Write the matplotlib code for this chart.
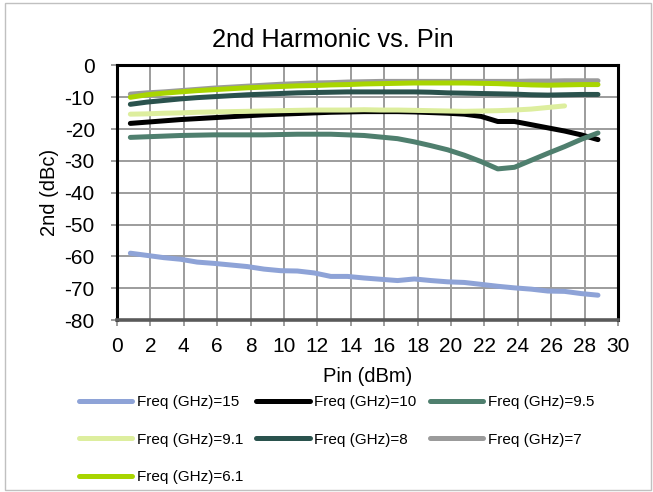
import matplotlib
matplotlib.use("Agg")
import matplotlib.pyplot as plt
from matplotlib.patches import Rectangle

plt.rcParams['font.family'] = ['Liberation Sans', 'DejaVu Sans']
plt.rcParams['axes.unicode_minus'] = False

pin = [0.8, 1.8, 2.8, 3.8, 4.8, 5.8, 6.8, 7.8, 8.8, 9.8, 10.8, 11.8, 12.8, 13.8, 14.8,
       15.8, 16.8, 17.8, 18.8, 19.8, 20.8, 21.8, 22.8, 23.8, 24.8, 25.8, 26.8, 27.8, 28.8]
pin_91 = pin[:27]

f15 = [-59.0, -59.7, -60.4, -60.9, -61.8, -62.2, -62.7, -63.2, -64.0, -64.5, -64.6, -65.2,
       -66.3, -66.3, -66.8, -67.2, -67.6, -67.1, -67.6, -68.0, -68.2, -68.8, -69.4, -69.9,
       -70.3, -70.9, -71.0, -71.7, -72.2]
f10 = [-18.2, -17.8, -17.4, -17.0, -16.7, -16.4, -16.1, -15.8, -15.5, -15.3, -15.1, -14.9,
       -14.7, -14.6, -14.5, -14.5, -14.5, -14.6, -14.8, -15.0, -15.3, -16.0, -17.6, -17.6,
       -18.6, -19.6, -20.6, -21.8, -23.3]
f95 = [-22.6, -22.4, -22.2, -22.0, -21.9, -21.8, -21.8, -21.8, -21.8, -21.7, -21.6, -21.6,
       -21.6, -21.8, -22.0, -22.5, -23.0, -24.0, -25.2, -26.5, -28.2, -30.2, -32.5, -32.0,
       -29.8, -27.6, -25.5, -23.2, -21.2]
f91 = [-15.3, -15.2, -15.0, -14.9, -14.7, -14.6, -14.5, -14.4, -14.3, -14.2, -14.1, -14.0,
       -14.0, -14.0, -13.9, -14.0, -14.0, -14.1, -14.2, -14.3, -14.4, -14.3, -14.2, -14.0,
       -13.7, -13.2, -12.7]
f8 = [-12.2, -11.5, -11.0, -10.5, -10.1, -9.8, -9.5, -9.2, -9.0, -8.8, -8.6, -8.5, -8.4,
      -8.3, -8.3, -8.3, -8.3, -8.3, -8.4, -8.6, -8.7, -8.8, -8.9, -9.0, -9.2, -9.3, -9.2,
      -9.1, -9.1]
f7 = [-9.0, -8.6, -8.3, -7.9, -7.5, -7.1, -6.8, -6.5, -6.2, -5.9, -5.7, -5.5, -5.4, -5.2,
      -5.1, -5.0, -5.0, -5.0, -5.0, -5.0, -5.0, -5.0, -5.0, -5.0, -4.9, -4.9, -4.8, -4.8, -4.8]
f61 = [-10.0, -9.2, -8.7, -8.3, -7.9, -7.6, -7.3, -7.0, -6.8, -6.6, -6.4, -6.3, -6.1, -6.0,
       -5.8, -5.7, -5.6, -5.5, -5.5, -5.5, -5.5, -5.6, -5.7, -5.9, -6.1, -6.2, -6.1, -6.0, -6.0]

labels = ["Freq (GHz)=15", "Freq (GHz)=10", "Freq (GHz)=9.5", "Freq (GHz)=9.1",
          "Freq (GHz)=8", "Freq (GHz)=7", "Freq (GHz)=6.1"]
colors = ["#8EA3D7", "#000000", "#4F7F6E", "#DDEE9E", "#2A524D", "#9B9B9B", "#A8D500"]
xs = [pin, pin, pin, pin_91, pin, pin, pin]
ys = [f15, f10, f95, f91, f8, f7, f61]

xticks = list(range(0, 31, 2))
yticks = list(range(-80, 1, 10))

fig = plt.figure(figsize=(6.53, 4.92), dpi=100)
ax = fig.add_axes([117/653, 1-320/492, (618-117)/653, (320-65.5)/492])

handles = []
for x, y, c, l in zip(xs, ys, colors, labels):
    h, = ax.plot(x, y, color=c, lw=3.6, label=l, solid_capstyle='round', solid_joinstyle='round', zorder=3)
    handles.append(h)

ax.set_xlim(0, 30)
ax.set_ylim(-80, 0)
ax.set_xticks(xticks)
ax.set_yticks(yticks)
ax.grid(True, color="#9C9C9C", lw=1.4, zorder=0)
ax.set_axisbelow(True)
ax.tick_params(axis='both', labelsize=15, length=4, width=1.2, color="#8C8C8C")
ax.tick_params(axis='y', pad=12)
ax.tick_params(axis='x', pad=8)
for s in ['left', 'top', 'right']:
    ax.spines[s].set_color('black')
    ax.spines[s].set_linewidth(2.2)
ax.spines['bottom'].set_color('#5A5A5A')
ax.spines['bottom'].set_linewidth(2.6)

fig.text(333/653, 1-40/492, "2nd Harmonic vs. Pin", fontsize=18.3, ha='center', va='center')
fig.text(368/653, 1-376/492, "Pin (dBm)", fontsize=14.5, ha='center', va='center')
fig.text(50/653, 1-192/492, "2nd (dBc)", fontsize=14.5, ha='center', va='center', rotation=90)

order = [0, 3, 6, 1, 4, 2, 5]
fig.legend([handles[i] for i in order], [labels[i] for i in order],
           loc='upper left', bbox_to_anchor=(79/653, 1-395/492), ncol=3, frameon=False,
           fontsize=11, handlelength=3.5, handletextpad=0.3, columnspacing=0.85,
           labelspacing=1.55, borderaxespad=0, borderpad=0)

fig.patches.append(Rectangle((5/653, 2/492), 646/653, 487/492, transform=fig.transFigure,
                             fill=False, edgecolor="#C0C0C0", lw=1.0))

fig.savefig("out.png", dpi=100)
